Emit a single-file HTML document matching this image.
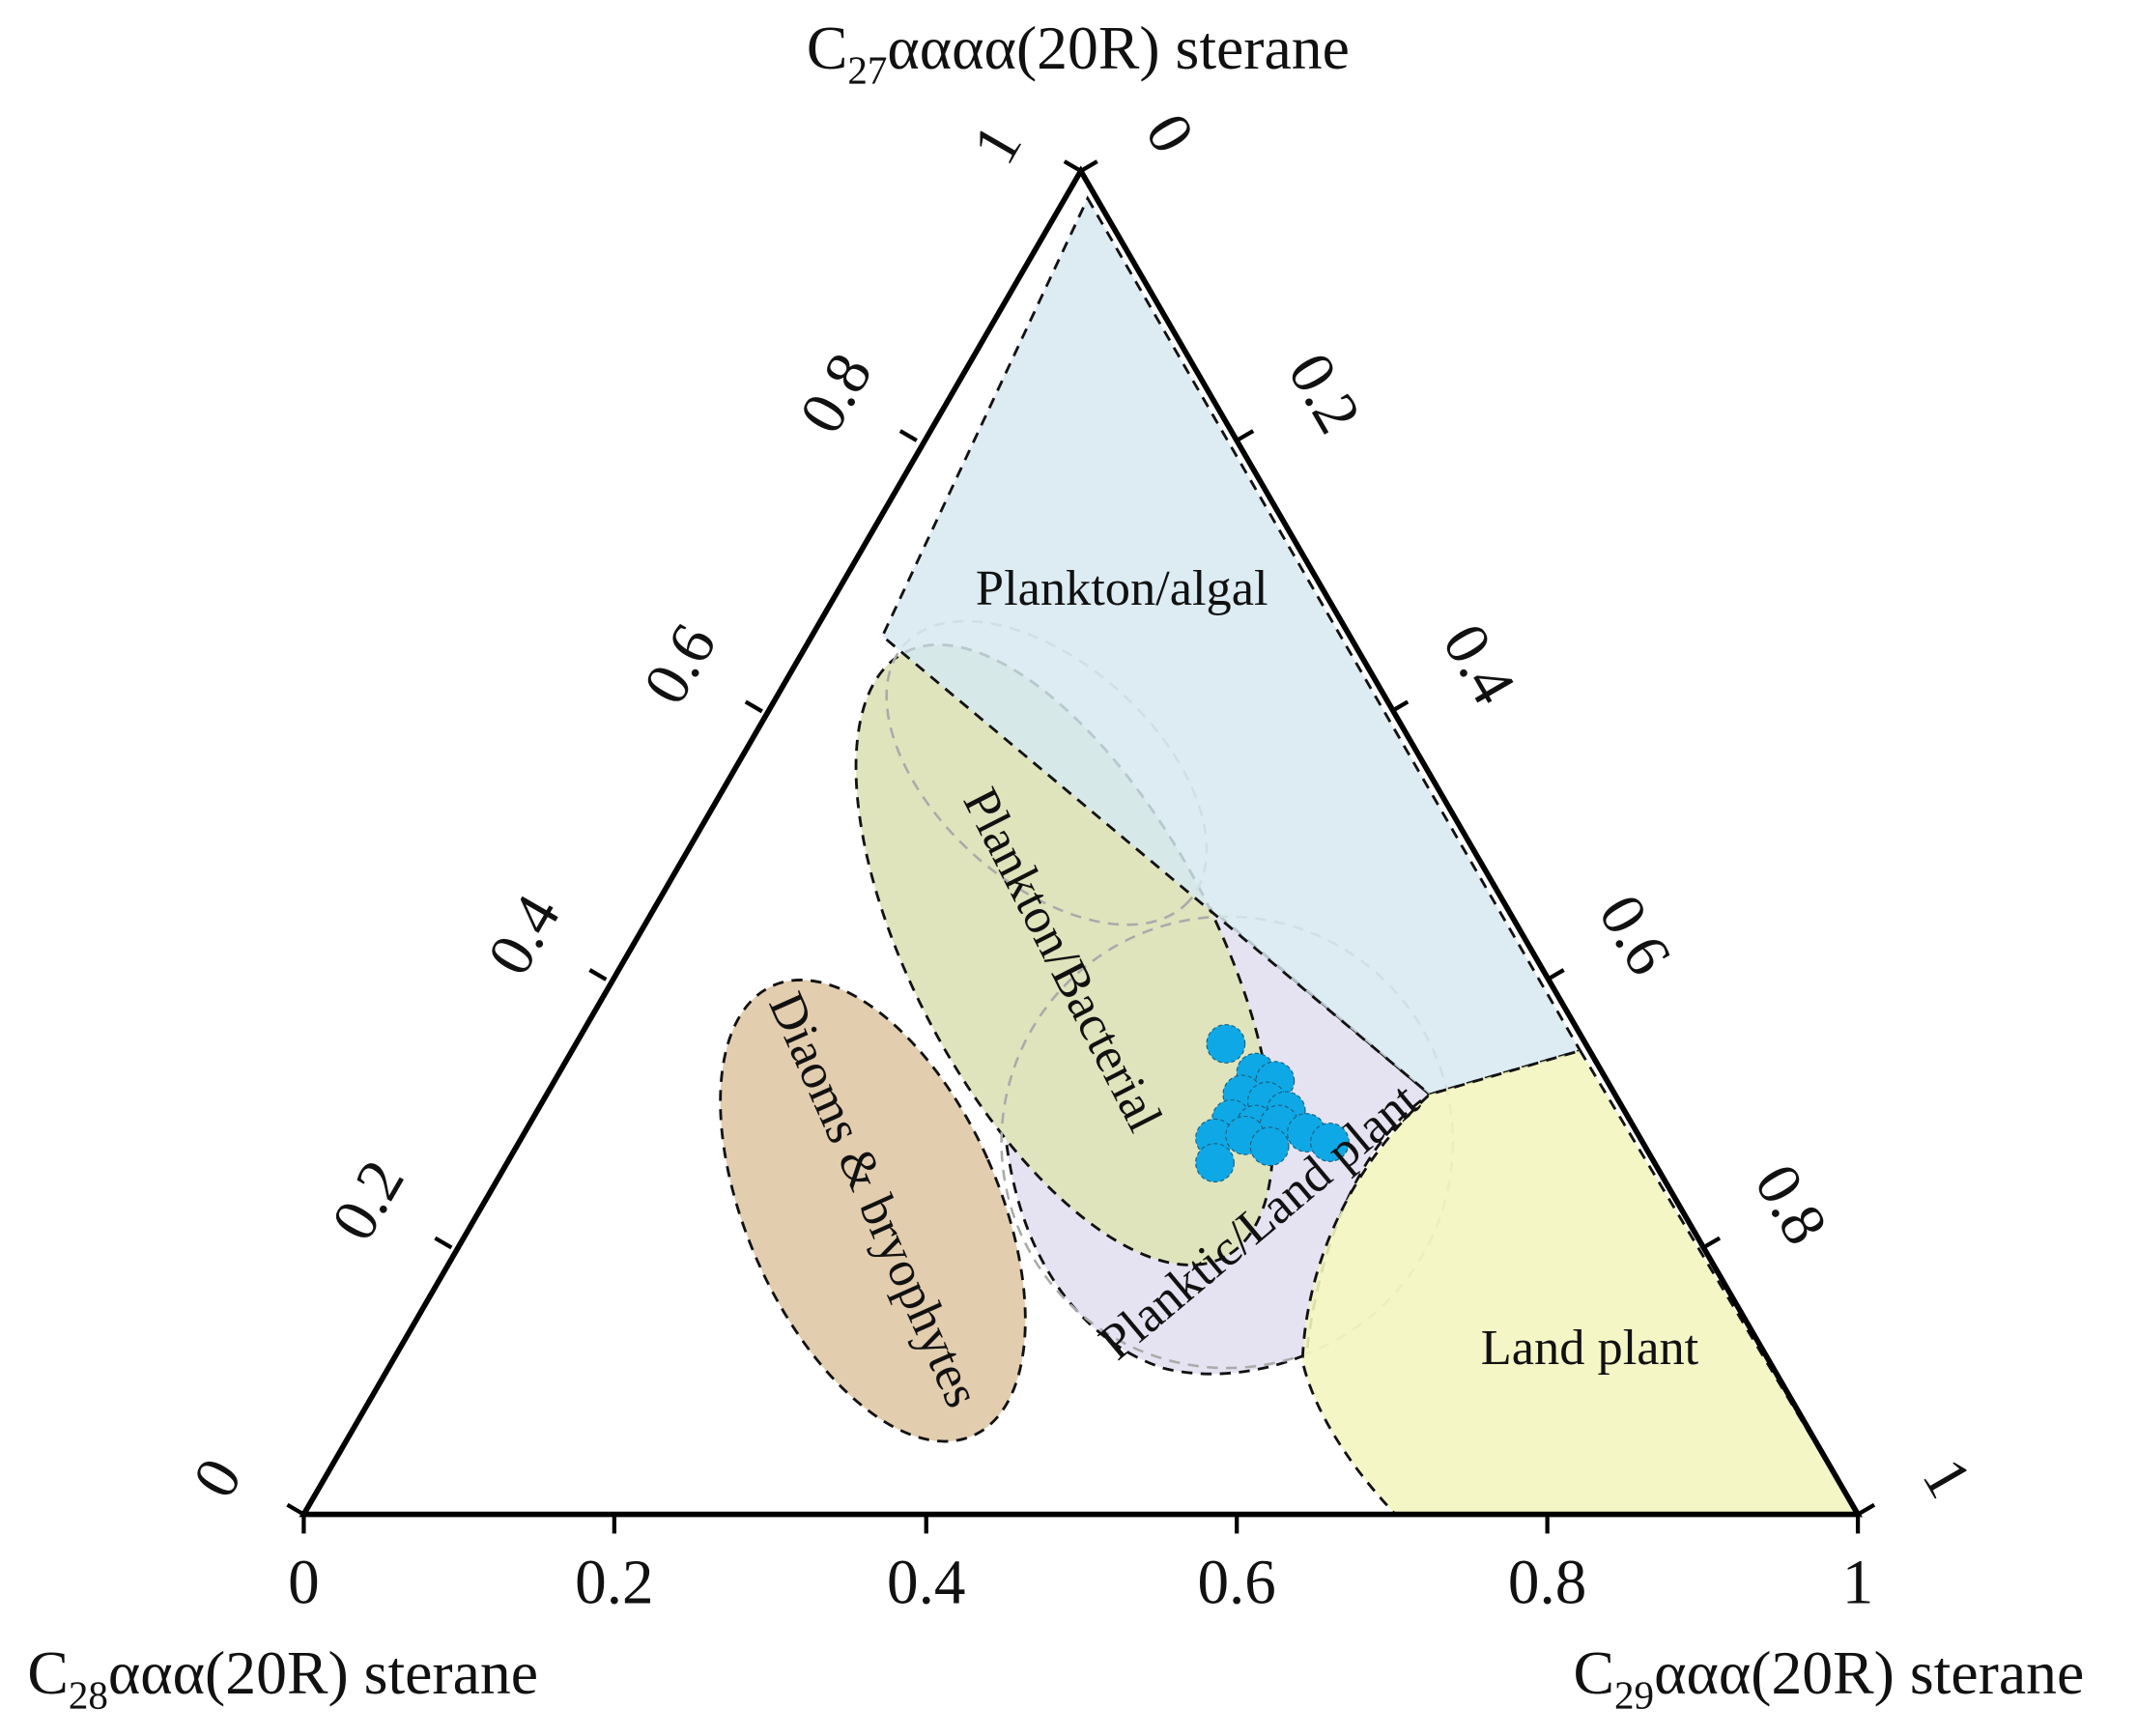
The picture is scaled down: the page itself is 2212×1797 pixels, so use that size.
<!DOCTYPE html>
<html><head><meta charset="utf-8"><style>
html,body{margin:0;padding:0;background:#fff;}
svg{display:block;}
text{font-family:"Liberation Serif",serif;fill:#111;}
</style></head><body>
<svg width="2212" height="1797" viewBox="0 0 1562 1269" xmlns="http://www.w3.org/2000/svg">
<!-- regions -->
<path d="M880,660 L1045,800 C1000,830 965,900 955,990 C920,1005 880,1008 850,1000 C790,980 745,920 735,830 C738,760 790,680 880,660 Z" fill="#e5e3f2" stroke="#111" stroke-width="2" stroke-dasharray="8,6"/>
<ellipse cx="778" cy="698" rx="250" ry="110" transform="rotate(62 778 698)" fill="#dfe4bd" stroke="#111" stroke-width="2" stroke-dasharray="8,6"/>
<circle cx="897" cy="835" r="165" fill="none" stroke="#aaa" stroke-width="1.8" stroke-dasharray="8,6"/>
<ellipse cx="765" cy="565" rx="140" ry="80" transform="rotate(42 765 565)" fill="none" stroke="#aaa" stroke-width="1.8" stroke-dasharray="8,6"/>
<path d="M795,145 L1155,768 L1045,800 L645,465 Z" fill="#d6e9f0" fill-opacity="0.85" stroke="#111" stroke-width="2" stroke-dasharray="8,6"/>
<path d="M1155,768 L1358,1107 L1020,1107 C985,1070 960,1030 952,995 C955,920 990,850 1045,800 Z" fill="#f3f5c0" fill-opacity="0.9" stroke="#111" stroke-width="2" stroke-dasharray="8,6"/>
<ellipse cx="638" cy="885" rx="92" ry="180" transform="rotate(-24 638 885)" fill="#e2cdaf" stroke="#111" stroke-width="2" stroke-dasharray="8,6"/>
<!-- data points -->
<g fill="#0fa8e6" stroke="#1a5f80" stroke-width="0.8" stroke-dasharray="3,2">
<circle cx="896" cy="763" r="14"/>
<circle cx="918" cy="784" r="14"/><circle cx="932" cy="790" r="14"/>
<circle cx="908" cy="800" r="14"/><circle cx="926" cy="805" r="14"/><circle cx="940" cy="812" r="14"/>
<circle cx="900" cy="818" r="14"/><circle cx="918" cy="822" r="14"/><circle cx="935" cy="822" r="14"/>
<circle cx="888" cy="832" r="14"/><circle cx="910" cy="830" r="14"/><circle cx="928" cy="838" r="14"/>
<circle cx="955" cy="828" r="14"/><circle cx="972" cy="835" r="14"/><circle cx="888" cy="850" r="14"/>
</g>
<!-- triangle -->
<path d="M790,125 L222,1107 L1358,1107 Z" fill="none" stroke="#000" stroke-width="4" stroke-linejoin="miter"/>
<g stroke="#000" stroke-width="3">
<line x1="222" y1="1107" x2="222" y2="1121"/><line x1="449" y1="1107" x2="449" y2="1121"/><line x1="677" y1="1107" x2="677" y2="1121"/><line x1="904" y1="1107" x2="904" y2="1121"/><line x1="1131" y1="1107" x2="1131" y2="1121"/><line x1="1358" y1="1107" x2="1358" y2="1121"/>
<line x1="222" y1="1107" x2="210" y2="1100"/><line x1="330" y1="912" x2="318" y2="905"/><line x1="443" y1="716" x2="431" y2="709"/><line x1="557" y1="520" x2="545" y2="513"/><line x1="670" y1="322" x2="658" y2="315"/><line x1="790" y1="125" x2="778" y2="118"/>
<line x1="790" y1="125" x2="802" y2="118"/><line x1="904" y1="322" x2="916" y2="315"/><line x1="1017" y1="520" x2="1029" y2="513"/><line x1="1131" y1="716" x2="1143" y2="709"/><line x1="1245" y1="912" x2="1257" y2="905"/><line x1="1358" y1="1107" x2="1370" y2="1100"/>
</g>
<!-- tick labels -->
<g font-size="46" text-anchor="middle">
<text x="222" y="1172">0</text><text x="449" y="1172">0.2</text><text x="677" y="1172">0.4</text><text x="904" y="1172">0.6</text><text x="1131" y="1172">0.8</text><text x="1358" y="1172">1</text>
<text transform="translate(172,1088) rotate(-60)">0</text>
<text transform="translate(282,885) rotate(-60)">0.2</text>
<text transform="translate(396,691) rotate(-60)">0.4</text>
<text transform="translate(510,493) rotate(-60)">0.6</text>
<text transform="translate(624,295) rotate(-60)">0.8</text>
<text transform="translate(742,113) rotate(-60)">1</text>
<text transform="translate(842,105) rotate(60)">0</text>
<text transform="translate(955,295) rotate(60)">0.2</text>
<text transform="translate(1068,493) rotate(60)">0.4</text>
<text transform="translate(1182,691) rotate(60)">0.6</text>
<text transform="translate(1296,888) rotate(60)">0.8</text>
<text transform="translate(1410,1088) rotate(60)">1</text>
</g>
<!-- axis titles -->
<g font-size="45">
<text x="788" y="50" text-anchor="middle">C<tspan font-size="29" dy="11">27</tspan><tspan dy="-11">αααα(20R) sterane</tspan></text>
<text x="20" y="1238">C<tspan font-size="29" dy="11">28</tspan><tspan dy="-11">ααα(20R) sterane</tspan></text>
<text x="1150" y="1238">C<tspan font-size="29" dy="11">29</tspan><tspan dy="-11">ααα(20R) sterane</tspan></text>
</g>
<!-- region labels -->
<g font-size="37" text-anchor="middle">
<text x="820" y="442">Plankton/algal</text>
<text x="1162" y="997">Land plant</text>
<text transform="translate(766,707) rotate(63)">Plankton/Bacterial</text>
<text transform="translate(628,882) rotate(66)">Diaoms &amp; bryophytes</text>
<text transform="translate(928,902) rotate(-40)">Planktic/Land plant</text>
</g>
</svg>
</body></html>
